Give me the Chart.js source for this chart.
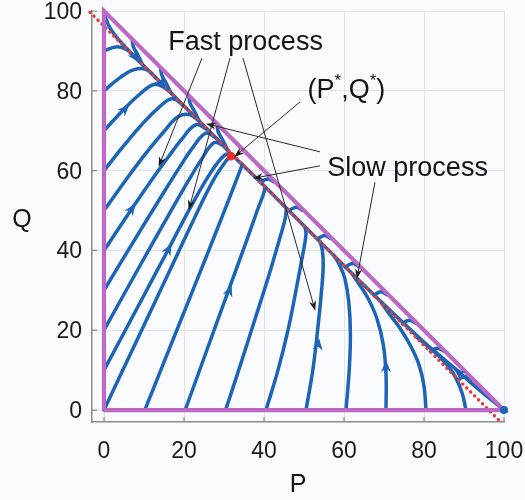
<!DOCTYPE html>
<html>
<head>
<meta charset="utf-8">
<script src="https://cdn.jsdelivr.net/npm/chart.js@4.4.1/dist/chart.umd.min.js"></script>
<style>
  html, body { margin: 0; padding: 0; background: #fafbfe; }
  #wrap { width: 525px; height: 500px; }
</style>
</head>
<body>
<div id="wrap"><canvas id="phase" width="525" height="500"></canvas></div>
<script>
const ticksP = [0, 20, 40, 60, 80, 100];
const ticksQ = [0, 20, 40, 60, 80, 100];

const simplex = [[0, 0], [100, 0], [0, 100], [0, 0]];
const slowLine = [[-3.5, 99.7], [99.5, -3.3]];
const equilibrium = [31.7, 63.6];
const corner = [100, 0];

// blue branches running along the slow line into (P*,Q*)
const upperBranch = [[0, 100], [0.5, 98], [1.6, 95.6], [3.5, 93], [6, 90.3], [10, 86.2], [16, 80.2], [22, 74.2], [28, 68.2], [31.7, 64.2]];
const lowerBranch = [[100, 0], [96, 3.2], [92, 6.6], [88, 10.2], [84, 13.6], [80, 17], [74, 22.6], [66, 30.3], [56, 40.2], [46, 50.2], [38, 58.2], [31.7, 64.2]];

// trajectories leaving the Q axis (P = 0)
const fromQAxis = [
  [[0, 10], [8, 25], [16, 40.1], [22, 51.5], [27, 60], [30.3, 64], [31.7, 63.8]],
  [[0, 20], [8, 34.4], [16, 48.6], [21, 57.3], [24.5, 63], [27.5, 67], [30, 66.2]],
  [[0, 30], [7, 41.6], [14, 53], [19, 61], [22.5, 66.2], [25.5, 69.4], [28, 68.2]],
  [[0, 40], [7, 50.5], [12, 57.8], [16.5, 64], [20, 68.6], [23, 71.5], [26, 70.2]],
  [[0, 50], [6, 58.4], [11, 65], [15, 69.8], [18.5, 73.5], [21.5, 74], [24, 72.2]],
  [[0, 60], [5, 66.3], [9.5, 71.6], [13.5, 75.6], [17, 78], [20, 76.2]],
  [[0, 70], [5, 75.4], [9, 79.2], [12.5, 81.6], [15.5, 80.5], [18, 78.2]],
  [[0, 80], [4, 83.3], [7.5, 85.3], [10.5, 85.4], [13, 83.2], [15, 81.2]],
  [[0, 90], [3, 91], [5.5, 90.4], [7.5, 88.6], [9.5, 86.7]]
];

// trajectories leaving the P axis (Q = 0)
const fromPAxis = [
  [[0, 0], [8, 17], [16, 34], [22, 46.8], [27, 57], [30.5, 62.4], [31.7, 63.6]],
  [[10.2, 0], [16, 14.5], [22, 29.5], [27.5, 43.3], [31.5, 53.5], [33.8, 59.5], [34.6, 61.6]],
  [[20.3, 0], [26, 15.8], [31.5, 31], [35.5, 42], [38.5, 50.5], [40, 54.5], [40.2, 56]],
  [[30.4, 0], [34, 11], [37.5, 22], [41, 33], [43.5, 41.5], [45.3, 48], [45.6, 50.6]],
  [[40.5, 0], [43.5, 10], [46, 20], [48, 30], [49.6, 38.5], [50.5, 44], [50.2, 46]],
  [[50.5, 0], [52.2, 10], [53.4, 20], [54.3, 29], [54.8, 36], [54.6, 40], [54, 42.2]],
  [[60.5, 0], [61.3, 10], [61.6, 19], [61.2, 27], [60.2, 33], [58.8, 36.5], [57.5, 38.7]],
  [[70.5, 0], [70.5, 9], [69.8, 16.5], [68.2, 23], [66, 28], [63.8, 31.5], [62, 34.2]],
  [[80.5, 0], [80, 6], [78.8, 11.2], [76.8, 15.8], [74, 20.5], [71.5, 23.8], [69.5, 26.7]],
  [[90.5, 0], [89.6, 4], [88, 8], [85.8, 11.3], [83, 14.2], [80.5, 16.4], [78, 18.4]]
];

// short trajectories dropping from the edge P + Q = 100
const fromEdge = [
  [[7.07, 92.6], [7.4, 90.9], [8.3, 89.3], [9.6, 86.6]],
  [[14.14, 85.5], [14.5, 83.8], [15.4, 82.2], [16.7, 79.5]],
  [[21.21, 78.4], [21.6, 76.7], [22.5, 75.1], [23.8, 72.4]],
  [[28.28, 71.3], [28.6, 69.6], [29.5, 68], [30.8, 65.4]],
  [[42.43, 57.2], [41.2, 57.9], [40, 57.6], [39.2, 57]],
  [[49.5, 50.1], [48.3, 50.8], [47.1, 50.5], [46.3, 49.9]],
  [[56.57, 43], [55.4, 43.7], [54.2, 43.4], [53.4, 42.8]],
  [[63.64, 36], [62.4, 36.7], [61.2, 36.4], [60.4, 35.8]],
  [[70.71, 28.9], [69.5, 29.6], [68.3, 29.3], [67.5, 28.7]],
  [[77.78, 21.8], [76.6, 22.5], [75.4, 22.2], [74.6, 21.6]],
  [[84.85, 14.8], [83.6, 15.5], [82.4, 15.2], [81.6, 14.7]],
  [[91.92, 7.7], [90.7, 8.4], [89.5, 8.1], [88.7, 7.7]]
];

// flow arrowheads: P, Q, direction dP, dQ
const flowArrows = [
  [5.3, 75.5, 1, 1.07], [7, 50.5, 1, 1.5], [16.2, 40.4, 1, 1.88], [31.4, 30, 1, 2.8],
  [53.6, 16.5, 0.12, 1], [70.5, 11, 0, 1], [88.6, 9.5, -1, 0.8],
  [7.8, 88.4, 1, -1.3], [14.5, 81.7, 1, -1.3]
];

const notes = [
  { text: 'Fast process', at: [35.4, 90.2] },
  { text: 'Slow process', at: [75.9, 58.6] }
];
const eqLabelAt = [60.6, 78.2];

// callout lines: from, to
const pointers = [
  [[24.5, 88.2], [13.75, 61.2]],
  [[31.5, 88.2], [21.25, 50.4]],
  [[34.75, 88.2], [52.75, 25.1]],
  [[54, 64.7], [25.75, 71.7]],
  [[54, 61.2], [37.5, 58.1]],
  [[67.75, 57.1], [63.25, 33.1]],
  [[49, 77.2], [32.75, 63.6]]
];

const BLUE = '#1c64b5';
const MAGENTA = '#bd68c4';
const FONT = "'Liberation Sans', Arial, sans-serif";

const xy = pts => pts.map(([x, y]) => ({ x, y }));
const path = (pts, extra) => Object.assign({
  data: xy(pts), showLine: true, pointRadius: 0, borderColor: BLUE,
  borderWidth: 3.5, tension: 0.4, borderCapStyle: 'round', order: 5
}, extra || {});

const datasets = [
  ...fromQAxis.map(p => path(p)),
  ...fromPAxis.map(p => path(p)),
  ...fromEdge.map(p => path(p)),
  path(upperBranch),
  path(lowerBranch),
  { data: xy(slowLine), showLine: true, pointRadius: 0, borderColor: '#ea3b36', borderWidth: 3.4,
    borderDash: [0.1, 5.5], borderCapStyle: 'round', order: 2, clip: false },
  { data: xy(simplex), showLine: true, pointRadius: 0, borderColor: MAGENTA, borderWidth: 4.2,
    tension: 0, order: 1, clip: false },
  { data: xy([corner]), showLine: false, pointRadius: 4, backgroundColor: BLUE, borderWidth: 0, order: 0, clip: false },
  { data: xy([equilibrium]), showLine: false, pointRadius: 4.2, backgroundColor: '#ee2b25', borderWidth: 0, order: 0 }
];

function arrowHead(ctx, x, y, ux, uy, len, half) {
  const nx = -uy, ny = ux;
  ctx.beginPath();
  ctx.moveTo(x + ux * len * 0.5, y + uy * len * 0.5);
  ctx.lineTo(x - ux * len * 0.5 + nx * half, y - uy * len * 0.5 + ny * half);
  ctx.lineTo(x - ux * len * 0.2, y - uy * len * 0.2);
  ctx.lineTo(x - ux * len * 0.5 - nx * half, y - uy * len * 0.5 - ny * half);
  ctx.closePath();
  ctx.fill();
}

const decorations = {
  id: 'decorations',
  beforeDraw(chart) {
    const { ctx, width, height } = chart;
    ctx.save();
    ctx.fillStyle = '#fafbfe';
    ctx.fillRect(0, 0, width, height);
    ctx.restore();
  },
  afterDraw(chart) {
    const { ctx, chartArea: a } = chart;
    const xs = chart.scales.x, ys = chart.scales.y;
    const px = v => xs.getPixelForValue(v), py = v => ys.getPixelForValue(v);
    ctx.save();

    // inward tick marks
    ctx.strokeStyle = '#8a8a8a';
    ctx.lineWidth = 1.2;
    ctx.beginPath();
    ticksP.forEach(t => { ctx.moveTo(px(t), a.bottom); ctx.lineTo(px(t), a.bottom - 5); });
    ticksQ.forEach(t => { ctx.moveTo(a.left, py(t)); ctx.lineTo(a.left + 5, py(t)); });
    ctx.stroke();

    // tick labels
    ctx.fillStyle = '#1a1a1a';
    ctx.font = `23px ${FONT}`;
    ctx.textBaseline = 'alphabetic';
    ctx.textAlign = 'center';
    ticksP.forEach(t => ctx.fillText(String(t), px(t), a.bottom + 36));
    ctx.textAlign = 'right';
    ticksQ.forEach(t => ctx.fillText(String(t), a.left - 10, py(t) + 8));

    // flow direction heads
    ctx.fillStyle = BLUE;
    flowArrows.forEach(([p, q, dp, dq]) => {
      const dx = px(p + dp) - px(p), dy = py(q + dq) - py(q);
      const n = Math.hypot(dx, dy);
      arrowHead(ctx, px(p), py(q), dx / n, dy / n, 12, 5);
    });

    // callouts
    ctx.strokeStyle = '#2a2a2a';
    ctx.fillStyle = '#1a1a1a';
    ctx.lineWidth = 1;
    pointers.forEach(([from, to]) => {
      const x0 = px(from[0]), y0 = py(from[1]), x1 = px(to[0]), y1 = py(to[1]);
      const n = Math.hypot(x1 - x0, y1 - y0), ux = (x1 - x0) / n, uy = (y1 - y0) / n;
      ctx.beginPath();
      ctx.moveTo(x0, y0);
      ctx.lineTo(x1 - ux * 4, y1 - uy * 4);
      ctx.stroke();
      arrowHead(ctx, x1 - ux * 4, y1 - uy * 4, ux, uy, 10, 3.5);
    });

    ctx.fillStyle = '#141414';
    ctx.textAlign = 'center';
    ctx.textBaseline = 'alphabetic';
    ctx.font = `27px ${FONT}`;
    notes.forEach(n => ctx.fillText(n.text, px(n.at[0]), py(n.at[1])));

    // (P*,Q*) with raised stars
    const parts = [['(P', 0], ['*', 1], [',Q', 0], ['*', 1], [')', 0]];
    const fontFor = s => s ? `17px ${FONT}` : `27px ${FONT}`;
    let total = 0;
    parts.forEach(([t, s]) => { ctx.font = fontFor(s); total += ctx.measureText(t).width; });
    let cx = px(eqLabelAt[0]) - total / 2;
    const base = py(eqLabelAt[1]);
    ctx.textAlign = 'left';
    parts.forEach(([t, s]) => {
      ctx.font = fontFor(s);
      ctx.fillText(t, cx, s ? base - 12 : base);
      cx += ctx.measureText(t).width;
    });

    // axis titles
    ctx.textAlign = 'center';
    ctx.font = `25px ${FONT}`;
    ctx.fillText('P', (a.left + a.right) / 2, 492);
    ctx.fillText('Q', 22, 227);
    ctx.restore();
  }
};

new Chart(document.getElementById('phase'), {
  type: 'scatter',
  data: { datasets },
  options: {
    responsive: false,
    animation: false,
    events: [],
    layout: { autoPadding: false, padding: { top: 11, right: 21, left: 0, bottom: 0 } },
    plugins: { legend: { display: false }, tooltip: { enabled: false } },
    scales: {
      x: {
        type: 'linear', min: -3, max: 100,
        afterBuildTicks: s => { s.ticks = ticksP.map(v => ({ value: v })); },
        afterFit: s => { s.height = 78; },
        grid: { color: '#e2e3e7', lineWidth: 1, drawTicks: false },
        border: { display: true, color: '#8a8a8a', width: 1.5 },
        ticks: { display: false }
      },
      y: {
        type: 'linear', min: -3, max: 100,
        afterBuildTicks: s => { s.ticks = ticksQ.map(v => ({ value: v })); },
        afterFit: s => { s.width = 92; },
        grid: { color: '#e2e3e7', lineWidth: 1, drawTicks: false },
        border: { display: true, color: '#8a8a8a', width: 1.5 },
        ticks: { display: false }
      }
    }
  },
  plugins: [decorations]
});
</script>
</body>
</html>
